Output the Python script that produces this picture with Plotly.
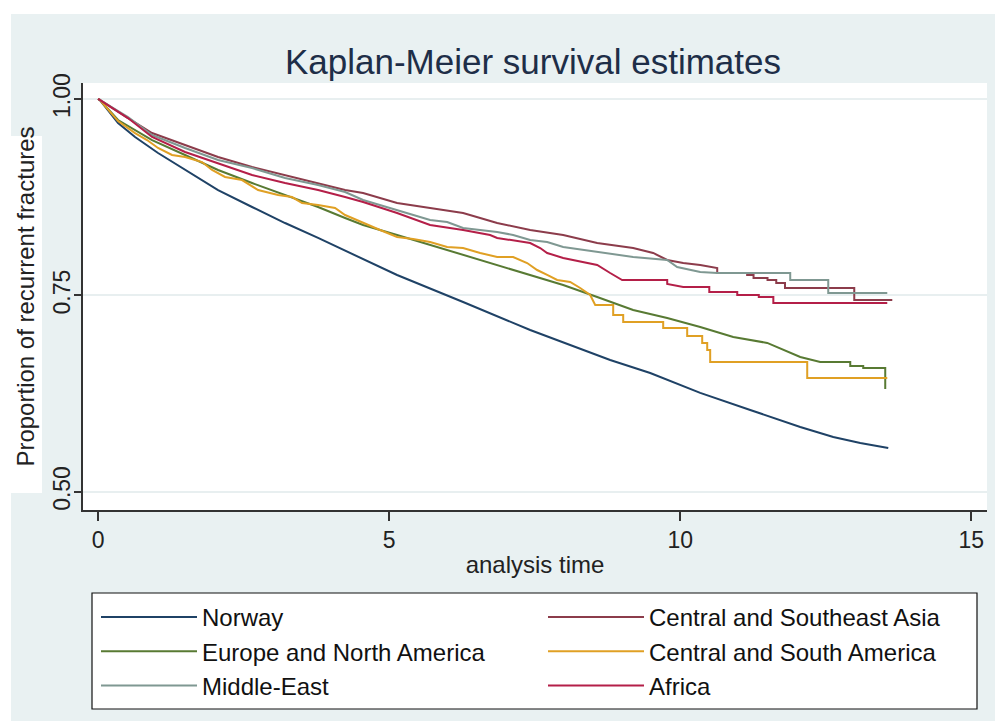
import plotly.graph_objects as go

# ---------------- data ----------------
groups = ["Norway", "Central and Southeast Asia", "Europe and North America",
          "Central and South America", "Middle-East", "Africa"]

norway_t = [0, 0.03, 0.344, 0.636, 1.031, 1.495, 2.062, 2.646, 3.213, 3.780,
            5.137, 6.271, 7.423, 8.110, 8.797, 9.485, 10.344, 11.203, 12.062, 12.629,
            13.093, 13.574]
norway_s = [1.0, 0.999, 0.9695, 0.9517, 0.9313, 0.9097, 0.8842, 0.8626, 0.8422, 0.8232,
            0.7761, 0.7417, 0.7061, 0.6870, 0.6679, 0.6514, 0.6260, 0.6043, 0.5827, 0.5700,
            0.5623, 0.5560]

asia_t = [0, 0.03, 0.515, 0.928, 1.495, 2.062, 2.646, 3.213, 3.780, 4.244,
          4.553, 5.137, 5.704, 6.271, 6.564, 6.856, 7.423, 7.990, 8.574, 8.797,
          9.192, 9.536, 9.777, 10.052, 10.344, 10.636, 10.636, 11.15, 11.15, 11.26,
          11.26, 11.5, 11.5, 11.65, 11.65, 11.80, 11.80, 12.99, 12.99, 13.643]
asia_s = [1.0, 0.999, 0.9758, 0.9567, 0.9415, 0.9262, 0.9135, 0.9033, 0.8931, 0.8842,
          0.8804, 0.8677, 0.8613, 0.8550, 0.8486, 0.8422, 0.8333, 0.8270, 0.8168, 0.8142,
          0.8104, 0.8041, 0.7952, 0.7913, 0.7888, 0.7850, 0.7786, 0.7786, 0.7761, 0.7761,
          0.7723, 0.7723, 0.7697, 0.7697, 0.7659, 0.7659, 0.7595, 0.7595, 0.7443, 0.7443]

europe_t = [0, 0.03, 0.344, 0.928, 1.495, 2.062, 2.646, 3.213, 3.780, 4.244,
            4.553, 5.137, 5.704, 6.271, 6.856, 7.423, 7.990, 8.574, 9.192, 9.777,
            10.344, 10.911, 11.495, 12.062, 12.405, 12.921, 12.921, 13.144, 13.144, 13.522,
            13.522]
europe_s = [1.0, 0.999, 0.9733, 0.9478, 0.9288, 0.9097, 0.8931, 0.8779, 0.8626, 0.8486,
            0.8397, 0.8270, 0.8142, 0.8015, 0.7888, 0.7761, 0.7634, 0.7481, 0.7316, 0.7214,
            0.7099, 0.6972, 0.6896, 0.6718, 0.6654, 0.6654, 0.6603, 0.6603, 0.6578, 0.6578,
            0.631]

samerica_t = [0, 0.03, 0.344, 0.636, 0.842, 1.031, 1.271, 1.495, 1.787, 1.959,
              2.182, 2.474, 2.749, 3.093, 3.333, 3.505, 3.780, 4.072, 4.244, 4.553,
              4.845, 5.137, 5.412, 5.704, 5.997, 6.271, 6.564, 6.856, 7.131, 7.371,
              7.543, 7.715, 7.887, 8.110, 8.282, 8.454, 8.540, 8.849, 8.849, 9.021,
              9.021, 9.708, 9.708, 10.120, 10.120, 10.378, 10.378, 10.464, 10.464, 10.515,
              10.515, 12.182, 12.182, 13.557]
samerica_s = [1.0, 0.999, 0.972, 0.9567, 0.9478, 0.9377, 0.9288, 0.9262, 0.9198, 0.9097,
              0.9008, 0.8969, 0.8842, 0.8779, 0.8753, 0.8677, 0.8651, 0.8613, 0.8524, 0.8422,
              0.8333, 0.8244, 0.8219, 0.8181, 0.8117, 0.8104, 0.8041, 0.7990, 0.7990, 0.7913,
              0.7824, 0.7761, 0.7697, 0.7672, 0.7595, 0.7506, 0.7379, 0.7379, 0.7252, 0.7252,
              0.7163, 0.7163, 0.7087, 0.7087, 0.6985, 0.6985, 0.6896, 0.6896, 0.6807, 0.6807,
              0.6654, 0.6654, 0.6450, 0.6450]

mideast_t = [0, 0.03, 0.515, 0.928, 1.495, 2.062, 2.646, 3.213, 3.780, 4.244,
             4.553, 5.137, 5.704, 5.997, 6.271, 6.856, 7.131, 7.423, 7.715, 7.990,
             8.574, 9.192, 9.777, 9.948, 10.344, 10.636, 11.890, 11.890, 12.543, 12.543,
             13.557]
mideast_s = [1.0, 0.999, 0.9771, 0.9542, 0.9377, 0.9224, 0.9122, 0.8995, 0.8906, 0.8817,
             0.8715, 0.8588, 0.8461, 0.8435, 0.8359, 0.8308, 0.8270, 0.8206, 0.8181, 0.8117,
             0.8053, 0.7990, 0.7952, 0.7863, 0.7799, 0.7786, 0.7786, 0.7697, 0.7697, 0.7532,
             0.7532]

africa_t = [0, 0.03, 0.515, 0.928, 1.495, 2.062, 2.646, 3.213, 3.780, 4.244,
            4.553, 5.137, 5.704, 6.271, 6.735, 6.856, 7.423, 7.595, 7.715, 7.990,
            8.574, 8.797, 9.003, 9.777, 9.777, 10.052, 10.5, 10.5, 10.98, 10.98,
            11.35, 11.35, 11.6, 11.6, 13.557]
africa_s = [1.0, 0.999, 0.9758, 0.9517, 0.9326, 0.9186, 0.9033, 0.8931, 0.8842, 0.8753,
            0.8690, 0.8550, 0.8397, 0.8333, 0.8270, 0.8232, 0.8168, 0.8104, 0.8041, 0.7977,
            0.7888, 0.7786, 0.7697, 0.7697, 0.7646, 0.7608, 0.7608, 0.7545, 0.7545, 0.7506,
            0.7506, 0.7480, 0.7480, 0.7405, 0.7405]

x_ticks = [0, 5, 10, 15]
y_ticks = [0.50, 0.75, 1.00]

# ---------------- style ----------------
W, H = 995, 721
ML, MR, MT, MB = 83, 8, 83, 211
PW, PH = W - ML - MR, H - MT - MB

def px_x(px):
    return (px - ML) / PW

def px_y(py):
    return (H - MB - py) / PH

colors = {
    "Norway": "#1f4266",
    "Central and Southeast Asia": "#8c3c4b",
    "Europe and North America": "#587a33",
    "Central and South America": "#e0a024",
    "Middle-East": "#7f9892",
    "Africa": "#b41f48",
}
series = {
    "Norway": (norway_t, norway_s),
    "Central and Southeast Asia": (asia_t, asia_s),
    "Europe and North America": (europe_t, europe_s),
    "Central and South America": (samerica_t, samerica_s),
    "Middle-East": (mideast_t, mideast_s),
    "Africa": (africa_t, africa_s),
}

fig = go.Figure()
for g in groups:
    t, s = series[g]
    fig.add_trace(go.Scatter(
        x=t, y=s, mode="lines", name=g,
        line=dict(color=colors[g], width=2),
        hoverinfo="skip",
    ))

FONT = "Liberation Sans, Arial, sans-serif"
shapes = [
    dict(type="rect", xref="paper", yref="paper", layer="below",
         x0=px_x(11), x1=px_x(W + 5), y0=px_y(H + 5), y1=px_y(14),
         fillcolor="#e9f1f2", line=dict(width=0)),
    dict(type="rect", xref="paper", yref="paper", layer="below",
         x0=0, x1=1, y0=0, y1=1, fillcolor="white", line=dict(width=0)),
    dict(type="rect", xref="paper", yref="paper", layer="below",
         x0=px_x(11), x1=px_x(42), y0=px_y(493), y1=px_y(136),
         fillcolor="white", line=dict(width=0)),
    dict(type="rect", xref="paper", yref="paper", layer="below",
         x0=px_x(92), x1=px_x(977), y0=px_y(709), y1=px_y(593),
         fillcolor="white", line=dict(color="#111111", width=1.2)),
]

fig.update_layout(
    width=W, height=H,
    margin=dict(l=ML, r=MR, t=MT, b=MB, pad=0, autoexpand=False),
    paper_bgcolor="white",
    plot_bgcolor="white",
    font=dict(family=FONT, color="#222222"),
    title=dict(text="Kaplan-Meier survival estimates", x=533 / W, xanchor="center",
               xref="container", yref="container", y=1 - 62 / H, yanchor="middle",
               font=dict(size=35, color="#1e2e48", family=FONT)),
    xaxis=dict(range=[-0.258, 15.27], tickvals=x_ticks, ticks="outside", ticklen=9,
               tickwidth=1.5, tickcolor="#333333", showline=True, linecolor="#333333",
               linewidth=1.5, showgrid=False, zeroline=False,
               tickfont=dict(size=23, color="#222222"), ticklabelstandoff=0,
               title=dict(text="analysis time", font=dict(size=24, color="#222222"),
                          standoff=4)),
    yaxis=dict(range=[0.477, 1.0204], tickvals=y_ticks, tickformat=".2f", tickangle=-90,
               ticks="outside", ticklen=7, tickwidth=1.5, tickcolor="#333333",
               showline=True, linecolor="#333333", linewidth=1.5,
               showgrid=True, gridcolor="#e8eff0", gridwidth=1.5, zeroline=False,
               tickfont=dict(size=23, color="#222222"), ticklabelstandoff=-5,
               title=dict(text="Proportion of recurrent fractures",
                          font=dict(size=24, color="#222222"), standoff=8)),
    legend=dict(orientation="h", x=px_x(96), xanchor="left", y=px_y(595), yanchor="top",
                bgcolor="rgba(0,0,0,0)", borderwidth=0, traceorder="normal",
                font=dict(size=24, color="#111111", family=FONT),
                itemwidth=96, entrywidth=336, tracegroupgap=0),
    shapes=shapes,
    showlegend=True,
)

fig.write_html("out.html")
